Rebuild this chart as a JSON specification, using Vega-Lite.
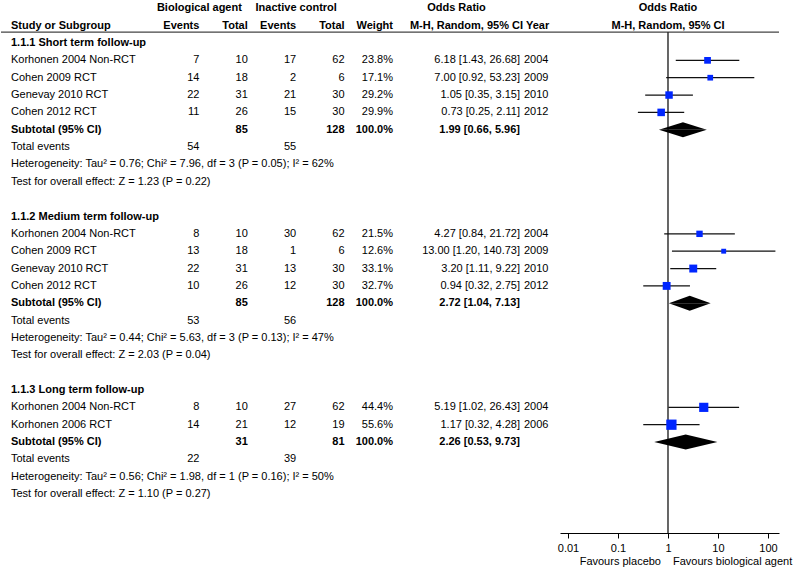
{
  "$schema": "https://vega.github.io/schema/vega-lite/v6.json",
  "padding": 0,
  "spacing": 0,
  "bounds": "flush",
  "background": "white",
  "config": {
    "font": "Liberation Sans",
    "view": {"stroke": null},
    "text": {"font": "Liberation Sans", "fontSize": 11, "baseline": "middle", "color": "#000"},
    "axis": {"grid": false, "domainColor": "#000", "tickColor": "#000", "labelColor": "#000", "labelFont": "Liberation Sans", "labelFontSize": 11, "tickSize": 5, "labelPadding": 4, "domainWidth": 1, "tickWidth": 1}
  },
  "datasets": {
    "rows": [
      {"row": 0, "kind": "section", "label": "1.1.1 Short term follow-up"},
      {"row": 1, "kind": "study", "label": "Korhonen 2004 Non-RCT", "be": 7, "bt": 10, "ce": 17, "ct": 62, "w": 0.238, "or": 6.18, "lo": 1.43, "hi": 26.68, "ci": "6.18 [1.43, 26.68]", "year": 2004},
      {"row": 2, "kind": "study", "label": "Cohen 2009 RCT", "be": 14, "bt": 18, "ce": 2, "ct": 6, "w": 0.171, "or": 7.0, "lo": 0.92, "hi": 53.23, "ci": "7.00 [0.92, 53.23]", "year": 2009},
      {"row": 3, "kind": "study", "label": "Genevay 2010 RCT", "be": 22, "bt": 31, "ce": 21, "ct": 30, "w": 0.292, "or": 1.05, "lo": 0.35, "hi": 3.15, "ci": "1.05 [0.35, 3.15]", "year": 2010},
      {"row": 4, "kind": "study", "label": "Cohen 2012 RCT", "be": 11, "bt": 26, "ce": 15, "ct": 30, "w": 0.299, "or": 0.73, "lo": 0.25, "hi": 2.11, "ci": "0.73 [0.25, 2.11]", "year": 2012},
      {"row": 5, "kind": "subtotal", "label": "Subtotal (95% CI)", "bt": 85, "ct": 128, "w": 1.0, "or": 1.99, "lo": 0.66, "hi": 5.96, "ci": "1.99 [0.66, 5.96]"},
      {"row": 6, "kind": "events", "label": "Total events", "be": 54, "ce": 55},
      {"row": 7, "kind": "note", "label": "Heterogeneity: Tau² = 0.76; Chi² = 7.96, df = 3 (P = 0.05); I² = 62%"},
      {"row": 8, "kind": "note", "label": "Test for overall effect: Z = 1.23 (P = 0.22)"},
      {"row": 10, "kind": "section", "label": "1.1.2 Medium term follow-up"},
      {"row": 11, "kind": "study", "label": "Korhonen 2004 Non-RCT", "be": 8, "bt": 10, "ce": 30, "ct": 62, "w": 0.215, "or": 4.27, "lo": 0.84, "hi": 21.72, "ci": "4.27 [0.84, 21.72]", "year": 2004},
      {"row": 12, "kind": "study", "label": "Cohen 2009 RCT", "be": 13, "bt": 18, "ce": 1, "ct": 6, "w": 0.126, "or": 13.0, "lo": 1.2, "hi": 140.73, "ci": "13.00 [1.20, 140.73]", "year": 2009},
      {"row": 13, "kind": "study", "label": "Genevay 2010 RCT", "be": 22, "bt": 31, "ce": 13, "ct": 30, "w": 0.331, "or": 3.2, "lo": 1.11, "hi": 9.22, "ci": "3.20 [1.11, 9.22]", "year": 2010},
      {"row": 14, "kind": "study", "label": "Cohen 2012 RCT", "be": 10, "bt": 26, "ce": 12, "ct": 30, "w": 0.327, "or": 0.94, "lo": 0.32, "hi": 2.75, "ci": "0.94 [0.32, 2.75]", "year": 2012},
      {"row": 15, "kind": "subtotal", "label": "Subtotal (95% CI)", "bt": 85, "ct": 128, "w": 1.0, "or": 2.72, "lo": 1.04, "hi": 7.13, "ci": "2.72 [1.04, 7.13]"},
      {"row": 16, "kind": "events", "label": "Total events", "be": 53, "ce": 56},
      {"row": 17, "kind": "note", "label": "Heterogeneity: Tau² = 0.44; Chi² = 5.63, df = 3 (P = 0.13); I² = 47%"},
      {"row": 18, "kind": "note", "label": "Test for overall effect: Z = 2.03 (P = 0.04)"},
      {"row": 20, "kind": "section", "label": "1.1.3 Long term follow-up"},
      {"row": 21, "kind": "study", "label": "Korhonen 2004 Non-RCT", "be": 8, "bt": 10, "ce": 27, "ct": 62, "w": 0.444, "or": 5.19, "lo": 1.02, "hi": 26.43, "ci": "5.19 [1.02, 26.43]", "year": 2004},
      {"row": 22, "kind": "study", "label": "Korhonen 2006 RCT", "be": 14, "bt": 21, "ce": 12, "ct": 19, "w": 0.556, "or": 1.17, "lo": 0.32, "hi": 4.28, "ci": "1.17 [0.32, 4.28]", "year": 2006},
      {"row": 23, "kind": "subtotal", "label": "Subtotal (95% CI)", "bt": 31, "ct": 81, "w": 1.0, "or": 2.26, "lo": 0.53, "hi": 9.73, "ci": "2.26 [0.53, 9.73]"},
      {"row": 24, "kind": "events", "label": "Total events", "be": 22, "ce": 39},
      {"row": 25, "kind": "note", "label": "Heterogeneity: Tau² = 0.56; Chi² = 1.98, df = 1 (P = 0.16); I² = 50%"},
      {"row": 26, "kind": "note", "label": "Test for overall effect: Z = 1.10 (P = 0.27)"}
    ]
  },
  "hconcat": [
    {
      "width": 150, "height": 533,
      "data": {"name": "rows"},
      "encoding": {"y": {"field": "row", "type": "ordinal", "scale": {"type": "point", "domain": [-2,-1,0,1,2,3,4,5,6,7,8,9,10,11,12,13,14,15,16,17,18,19,20,21,22,23,24,25,26,27,28,29,30], "range": [8.3, 563.5], "padding": 0}, "axis": null}},
      "layer": [
        {"data": {"values": [{}]}, "mark": {"type": "rule", "yOffset": 6.5, "color": "#444", "strokeWidth": 1.2}, "encoding": {"y": {"datum": -1, "type": "ordinal"}}},
        {"transform": [{"filter": "datum.kind == 'study' || datum.kind == 'events' || datum.kind == 'note'"}],
         "mark": {"type": "text", "align": "left", "dx": 10},
         "encoding": {"x": {"value": 0}, "text": {"field": "label"}}},
        {"transform": [{"filter": "datum.kind == 'section' || datum.kind == 'subtotal'"}],
         "mark": {"type": "text", "align": "left", "dx": 10, "fontWeight": "bold"},
         "encoding": {"x": {"value": 0}, "text": {"field": "label"}}},
        {"data": {"values": [{"row": -1, "h": "Study or Subgroup"}]},
         "mark": {"type": "text", "align": "left", "dx": 10, "fontWeight": "bold"},
         "encoding": {"x": {"value": 0}, "text": {"field": "h"}}}
      ]
    },
    {
      "width": 242, "height": 533,
      "data": {"name": "rows"},
      "encoding": {"y": {"field": "row", "type": "ordinal", "scale": {"type": "point", "domain": [-2,-1,0,1,2,3,4,5,6,7,8,9,10,11,12,13,14,15,16,17,18,19,20,21,22,23,24,25,26,27,28,29,30], "range": [8.3, 563.5], "padding": 0}, "axis": null}},
      "layer": [
        {"data": {"values": [{}]}, "mark": {"type": "rule", "yOffset": 6.5, "color": "#444", "strokeWidth": 1.2}, "encoding": {"y": {"datum": -1, "type": "ordinal"}}},
        {"transform": [{"filter": "datum.kind == 'study' || datum.kind == 'events'"}, {"fold": ["be", "bt", "ce", "ct"], "as": ["col", "val"]}, {"filter": "isValid(datum.val)"}],
         "mark": {"type": "text", "align": "right"},
         "encoding": {"x": {"field": "col", "type": "nominal", "bandPosition": 1, "scale": {"type": "band", "domain": ["be", "bt", "ce", "ct", "w"], "paddingInner": 0, "paddingOuter": 0}, "axis": null},
                      "text": {"field": "val", "type": "quantitative", "format": "d"}}},
        {"transform": [{"filter": "datum.kind == 'subtotal'"}, {"fold": ["bt", "ct"], "as": ["col", "val"]}],
         "mark": {"type": "text", "align": "right", "fontWeight": "bold"},
         "encoding": {"x": {"field": "col", "type": "nominal", "bandPosition": 1, "scale": {"type": "band", "domain": ["be", "bt", "ce", "ct", "w"], "paddingInner": 0, "paddingOuter": 0}, "axis": null},
                      "text": {"field": "val", "type": "quantitative", "format": "d"}}},
        {"transform": [{"filter": "datum.kind == 'study'"}],
         "mark": {"type": "text", "align": "right"},
         "encoding": {"x": {"datum": "w", "type": "nominal", "bandPosition": 1, "scale": {"type": "band", "domain": ["be", "bt", "ce", "ct", "w"], "paddingInner": 0, "paddingOuter": 0}, "axis": null},
                      "text": {"field": "w", "type": "quantitative", "format": ".1%"}}},
        {"transform": [{"filter": "datum.kind == 'subtotal'"}],
         "mark": {"type": "text", "align": "right", "fontWeight": "bold"},
         "encoding": {"x": {"datum": "w", "type": "nominal", "bandPosition": 1, "scale": {"type": "band", "domain": ["be", "bt", "ce", "ct", "w"], "paddingInner": 0, "paddingOuter": 0}, "axis": null},
                      "text": {"field": "w", "type": "quantitative", "format": ".1%"}}},
        {"data": {"values": [{"row": -1, "col": "be", "h": "Events"}, {"row": -1, "col": "bt", "h": "Total"}, {"row": -1, "col": "ce", "h": "Events"}, {"row": -1, "col": "ct", "h": "Total"}, {"row": -1, "col": "w", "h": "Weight"}]},
         "mark": {"type": "text", "align": "right", "fontWeight": "bold"},
         "encoding": {"x": {"field": "col", "type": "nominal", "bandPosition": 1, "scale": {"type": "band", "domain": ["be", "bt", "ce", "ct", "w"], "paddingInner": 0, "paddingOuter": 0}, "axis": null},
                      "text": {"field": "h"}}},
        {"data": {"values": [{"row": -2, "col": "bt", "h": "Biological agent"}, {"row": -2, "col": "ct", "h": "Inactive control"}]},
         "mark": {"type": "text", "align": "center", "fontWeight": "bold"},
         "encoding": {"x": {"field": "col", "type": "nominal", "bandPosition": 0, "scale": {"type": "band", "domain": ["be", "bt", "ce", "ct", "w"], "paddingInner": 0, "paddingOuter": 0}, "axis": null},
                      "text": {"field": "h"}}}
      ]
    },
    {
      "width": 127, "height": 533,
      "data": {"name": "rows"},
      "encoding": {"y": {"field": "row", "type": "ordinal", "scale": {"type": "point", "domain": [-2,-1,0,1,2,3,4,5,6,7,8,9,10,11,12,13,14,15,16,17,18,19,20,21,22,23,24,25,26,27,28,29,30], "range": [8.3, 563.5], "padding": 0}, "axis": null}},
      "layer": [
        {"data": {"values": [{}]}, "mark": {"type": "rule", "yOffset": 6.5, "color": "#444", "strokeWidth": 1.2}, "encoding": {"y": {"datum": -1, "type": "ordinal"}}},
        {"transform": [{"filter": "datum.kind == 'study'"}],
         "mark": {"type": "text", "align": "right"},
         "encoding": {"x": {"value": "width"}, "text": {"field": "ci"}}},
        {"transform": [{"filter": "datum.kind == 'subtotal'"}],
         "mark": {"type": "text", "align": "right", "fontWeight": "bold"},
         "encoding": {"x": {"value": "width"}, "text": {"field": "ci"}}},
        {"data": {"values": [{"row": -2, "h": "Odds Ratio"}]},
         "mark": {"type": "text", "align": "center", "fontWeight": "bold"},
         "encoding": {"text": {"field": "h"}}},
        {"data": {"values": [{"row": -1, "h": "M-H, Random, 95% CI"}]},
         "mark": {"type": "text", "align": "right", "fontWeight": "bold", "dx": 3},
         "encoding": {"x": {"value": "width"}, "text": {"field": "h"}}}
      ]
    },
    {
      "width": 40, "height": 533,
      "data": {"name": "rows"},
      "encoding": {"y": {"field": "row", "type": "ordinal", "scale": {"type": "point", "domain": [-2,-1,0,1,2,3,4,5,6,7,8,9,10,11,12,13,14,15,16,17,18,19,20,21,22,23,24,25,26,27,28,29,30], "range": [8.3, 563.5], "padding": 0}, "axis": null}},
      "layer": [
        {"data": {"values": [{}]}, "mark": {"type": "rule", "yOffset": 6.5, "color": "#444", "strokeWidth": 1.2}, "encoding": {"y": {"datum": -1, "type": "ordinal"}}},
        {"transform": [{"filter": "datum.kind == 'study'"}],
         "mark": {"type": "text", "align": "left", "dx": 4},
         "encoding": {"x": {"value": 0}, "text": {"field": "year", "type": "nominal"}}},
        {"data": {"values": [{"row": -1, "h": "Year"}]},
         "mark": {"type": "text", "align": "left", "dx": 6, "fontWeight": "bold"},
         "encoding": {"x": {"value": 0}, "text": {"field": "h"}}}
      ]
    },
    {
      "width": 219, "height": 533,
      "data": {"name": "rows"},
      "encoding": {"y": {"field": "row", "type": "ordinal", "scale": {"type": "point", "domain": [-2,-1,0,1,2,3,4,5,6,7,8,9,10,11,12,13,14,15,16,17,18,19,20,21,22,23,24,25,26,27,28,29,30], "range": [8.3, 563.5], "padding": 0}, "axis": null}},
      "resolve": {"scale": {"yOffset": "independent"}},
      "layer": [
        {"data": {"values": [{}]}, "mark": {"type": "rule", "yOffset": 6.5, "color": "#444", "strokeWidth": 1.2}, "encoding": {"y": {"datum": -1, "type": "ordinal"}}},
        {"data": {"values": [{}]},
         "mark": {"type": "rule", "yOffset": 6.5, "color": "#000", "strokeWidth": 1.2},
         "encoding": {"x": {"datum": 1, "type": "quantitative", "scale": {"type": "log", "domain": [0.00692, 166], "nice": false}, "axis": {"values": [0.01, 0.1, 1, 10, 100], "format": "~g", "title": null}},
                      "y": {"datum": -1, "type": "ordinal"}, "y2": {"value": "height"}}},
        {"transform": [{"filter": "datum.kind == 'study'"}],
         "mark": {"type": "rule", "color": "#111", "strokeWidth": 1.2},
         "encoding": {"x": {"field": "lo", "type": "quantitative", "scale": {"type": "log", "domain": [0.00692, 166], "nice": false}, "axis": {"values": [0.01, 0.1, 1, 10, 100], "format": "~g", "title": null}},
                      "x2": {"field": "hi"}}},
        {"transform": [{"filter": "datum.kind == 'study'"}],
         "mark": {"type": "point", "shape": "square", "filled": true, "color": "#0026ff", "opacity": 1, "strokeWidth": 0},
         "encoding": {"x": {"field": "or", "type": "quantitative", "scale": {"type": "log", "domain": [0.00692, 166], "nice": false}, "axis": {"values": [0.01, 0.1, 1, 10, 100], "format": "~g", "title": null}},
                      "size": {"field": "w", "type": "quantitative", "scale": {"domain": [0, 1], "range": [0, 190]}, "legend": null}}},
        {"transform": [{"filter": "datum.kind == 'subtotal'"}, {"fold": ["lo", "or", "hi"], "as": ["stat", "value"]},
                       {"lookup": "stat", "from": {"data": {"values": [{"stat": "lo", "pt": "bound"}, {"stat": "or", "pt": "estimate"}, {"stat": "hi", "pt": "bound"}]}, "key": "stat", "fields": ["pt"]}}],
         "mark": {"type": "area", "orient": "vertical", "color": "#000", "opacity": 1},
         "encoding": {"x": {"field": "value", "type": "quantitative", "stack": null, "scale": {"type": "log", "domain": [0.00692, 166], "nice": false}, "axis": {"values": [0.01, 0.1, 1, 10, 100], "format": "~g", "title": null}},
                      "y2": {"field": "row"},
                      "yOffset": {"field": "pt", "type": "nominal", "scale": {"type": "point", "domain": ["bound", "estimate"], "range": [0, -7.5], "padding": 0}},
                      "detail": {"field": "row", "type": "ordinal"}}},
        {"transform": [{"filter": "datum.kind == 'subtotal'"}, {"fold": ["lo", "or", "hi"], "as": ["stat", "value"]},
                       {"lookup": "stat", "from": {"data": {"values": [{"stat": "lo", "pt": "bound"}, {"stat": "or", "pt": "estimate"}, {"stat": "hi", "pt": "bound"}]}, "key": "stat", "fields": ["pt"]}}],
         "mark": {"type": "area", "orient": "vertical", "color": "#000", "opacity": 1},
         "encoding": {"x": {"field": "value", "type": "quantitative", "stack": null, "scale": {"type": "log", "domain": [0.00692, 166], "nice": false}, "axis": {"values": [0.01, 0.1, 1, 10, 100], "format": "~g", "title": null}},
                      "y2": {"field": "row"},
                      "yOffset": {"field": "pt", "type": "nominal", "scale": {"type": "point", "domain": ["bound", "estimate"], "range": [0, 7.5], "padding": 0}},
                      "detail": {"field": "row", "type": "ordinal"}}},
        {"data": {"values": [{"row": -2, "h": "Odds Ratio"}, {"row": -1, "h": "M-H, Random, 95% CI"}]},
         "mark": {"type": "text", "align": "center", "fontWeight": "bold"},
         "encoding": {"x": {"datum": 1, "type": "quantitative", "scale": {"type": "log", "domain": [0.00692, 166], "nice": false}, "axis": {"values": [0.01, 0.1, 1, 10, 100], "format": "~g", "title": null}},
                      "text": {"field": "h"}}},
        {"data": {"values": [{"row": 30, "h": "Favours placebo"}]},
         "mark": {"type": "text", "align": "right", "dx": -7, "dy": -2},
         "encoding": {"x": {"datum": 1, "type": "quantitative", "scale": {"type": "log", "domain": [0.00692, 166], "nice": false}, "axis": {"values": [0.01, 0.1, 1, 10, 100], "format": "~g", "title": null}},
                      "text": {"field": "h"}}},
        {"data": {"values": [{"row": 30, "h": "Favours biological agent"}]},
         "mark": {"type": "text", "align": "left", "dx": 5, "dy": -2},
         "encoding": {"x": {"datum": 1, "type": "quantitative", "scale": {"type": "log", "domain": [0.00692, 166], "nice": false}, "axis": {"values": [0.01, 0.1, 1, 10, 100], "format": "~g", "title": null}},
                      "text": {"field": "h"}}}
      ]
    }
  ]
}
